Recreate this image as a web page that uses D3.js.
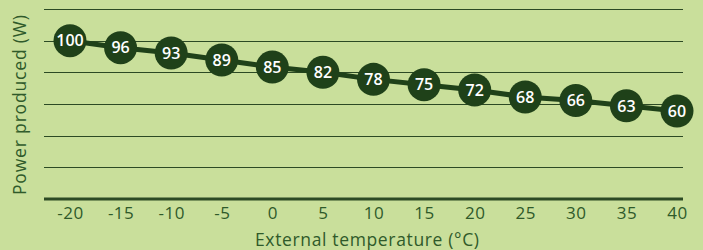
<!DOCTYPE html>
<html>
<head>
<meta charset="utf-8">
<script src="https://cdn.jsdelivr.net/npm/d3@7"></script>
<style>
  html, body { margin: 0; padding: 0; background: #c9df9b; }
  svg { display: block; font-family: "Open Sans", "Lato", sans-serif; }
</style>
</head>
<body>
<svg id="chart" width="703" height="250"></svg>
<script>
// chart data
const temperatures = [-20, -15, -10, -5, 0, 5, 10, 15, 20, 25, 30, 35, 40];
const power = [100, 96, 93, 89, 85, 82, 78, 75, 72, 68, 66, 63, 60];
const gridValues = [10, 28, 46, 64, 82, 100, 118];
const xTitle = "External temperature (°C)";
const yTitle = "Power produced (W)";

const svg = d3.select("#chart");
const dark = "#1f4119";
const textCol = "#2f5a2a";

const x = d3.scaleLinear().domain([-20, 40]).range([70, 677]);
const y = d3.scaleLinear().domain([10, 118]).range([199, 9]);
const left = 44, right = 683;

// grid lines
svg.append("g").selectAll("line")
    .data(gridValues.slice(1))
    .enter().append("line")
    .attr("x1", left).attr("x2", right)
    .attr("y1", d => Math.round(y(d)) + 0.5)
    .attr("y2", d => Math.round(y(d)) + 0.5)
    .attr("stroke", "#2c4a24")
    .attr("stroke-width", 1.2);

// baseline
svg.append("line")
    .attr("x1", left).attr("x2", right)
    .attr("y1", y(gridValues[0])).attr("y2", y(gridValues[0]))
    .attr("stroke", "#2c4a24")
    .attr("stroke-width", 3);

// x axis labels
const xAxis = d3.axisBottom(x).tickValues(temperatures).tickSize(0).tickPadding(0)
    .tickFormat(d => d < 0 ? "-" + Math.abs(d) : d);
const gx = svg.append("g").attr("transform", "translate(0,207)").call(xAxis);
gx.select(".domain").remove();
gx.selectAll("text")
    .attr("fill", textCol)
    .attr("font-family", "'Open Sans', sans-serif")
    .attr("font-size", "17px")
    .attr("letter-spacing", "0.5px");

// axis titles
svg.append("text")
    .attr("x", 367).attr("y", 246)
    .attr("text-anchor", "middle")
    .attr("fill", textCol)
    .attr("font-size", "17.5px")
    .attr("textLength", 224)
    .attr("lengthAdjust", "spacing")
    .text(xTitle);

svg.append("text")
    .attr("transform", "translate(26,105) rotate(-90)")
    .attr("text-anchor", "middle")
    .attr("fill", textCol)
    .attr("font-size", "17.5px")
    .attr("textLength", 180)
    .attr("lengthAdjust", "spacing")
    .text(yTitle);

// line
const pts = temperatures.map((t, i) => ({ t: t, v: power[i] }));
svg.append("path")
    .datum(pts)
    .attr("fill", "none")
    .attr("stroke", dark)
    .attr("stroke-width", 5)
    .attr("d", d3.line().x(d => x(d.t)).y(d => y(d.v)));

// markers
const nodes = svg.append("g").selectAll("g")
    .data(pts)
    .enter().append("g")
    .attr("transform", d => `translate(${x(d.t)},${y(d.v)})`);

nodes.append("circle")
    .attr("r", 16.5)
    .attr("fill", dark);

nodes.append("text")
    .attr("text-anchor", "middle")
    .attr("dy", "0.36em")
    .attr("fill", "#ffffff")
    .attr("font-weight", 600)
    .attr("font-size", "16px")
    .text(d => d.v);
</script>
</body>
</html>
